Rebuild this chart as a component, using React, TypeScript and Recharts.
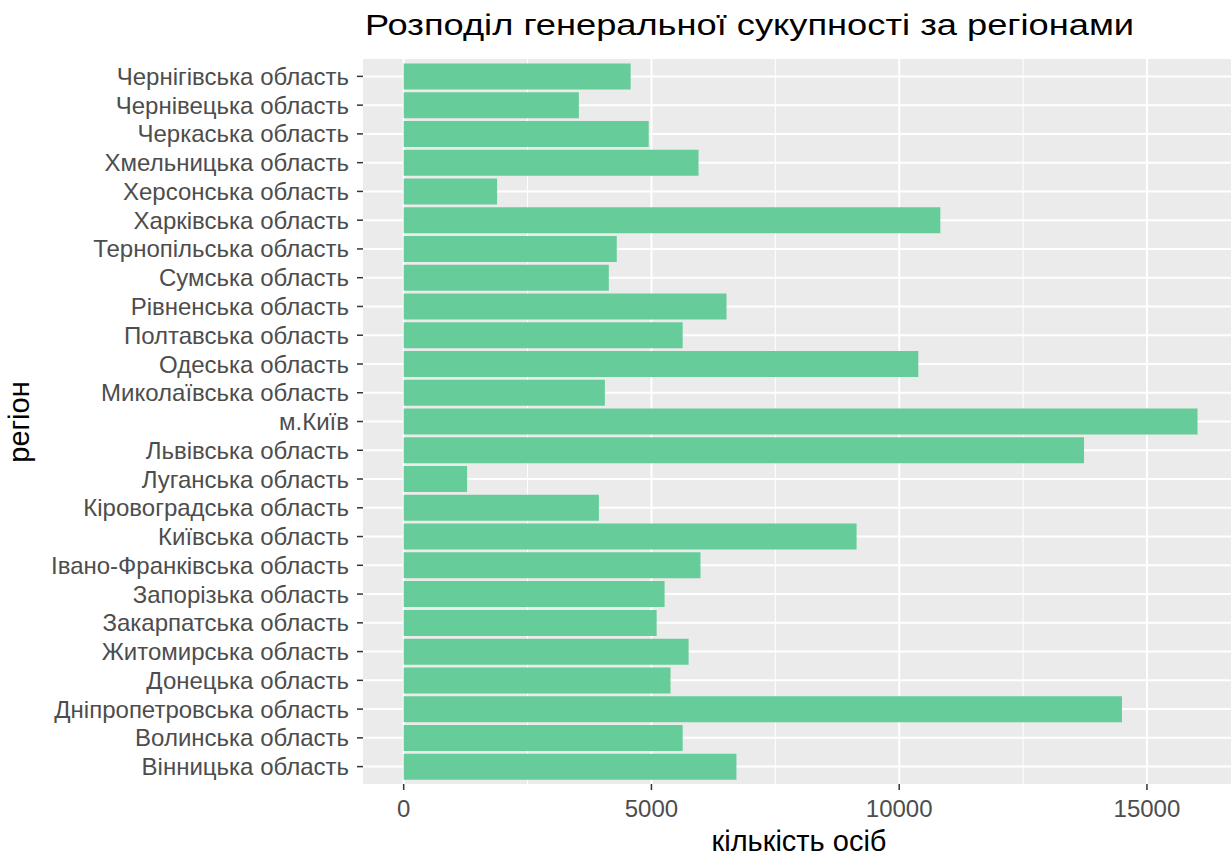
import React from 'react';
import { BarChart, Bar, XAxis, YAxis, CartesianGrid } from 'recharts';

// regions, top to bottom as drawn
const regions = [
  'Чернігівська область',
  'Чернівецька область',
  'Черкаська область',
  'Хмельницька область',
  'Херсонська область',
  'Харківська область',
  'Тернопільська область',
  'Сумська область',
  'Рівненська область',
  'Полтавська область',
  'Одеська область',
  'Миколаївська область',
  'м.Київ',
  'Львівська область',
  'Луганська область',
  'Кіровоградська область',
  'Київська область',
  'Івано-Франківська область',
  'Запорізька область',
  'Закарпатська область',
  'Житомирська область',
  'Донецька область',
  'Дніпропетровська область',
  'Волинська область',
  'Вінницька область',
];

const counts = [
  4580, 3535, 4945, 5950, 1885, 10830, 4300, 4140, 6515, 5630, 10385, 4060, 16020,
  13730, 1280, 3940, 9140, 5990, 5265, 5105, 5750, 5385, 14495, 5630, 6715,
];

const xTicks = [0, 5000, 10000, 15000];
const xMinorTicks = [2500, 7500, 12500];

const data = regions.map((region, i) => ({ region, count: counts[i] }));

const FONT = '"Liberation Sans", Arial, sans-serif';
const X_DOMAIN: [number, number] = [-821, 16696];

function App() {
  return (
    <div style={{ position: 'absolute', left: 0, top: 0, width: 1231, height: 856, background: '#fff', fontFamily: FONT }}>
      <div
        style={{
          position: 'absolute',
          left: 365,
          top: 9,
          fontSize: 29,
          color: '#000',
          whiteSpace: 'nowrap',
          transform: 'scaleX(1.25)',
          transformOrigin: 'left center',
        }}
      >
        Розподіл генеральної сукупності за регіонами
      </div>
      <BarChart
        width={1231}
        height={856}
        data={data}
        layout="vertical"
        margin={{ top: 59, right: 0, bottom: 0, left: 0 }}
        barCategoryGap="5%"
      >
        <CartesianGrid fill="#EBEBEB" stroke="#FFFFFF" strokeWidth={2} syncWithTicks />
        {/* minor vertical lines via a hidden axis so they stay behind the bars */}
        <CartesianGrid xAxisId="minor" horizontal={false} fill="none" stroke="#FFFFFF" strokeWidth={1} syncWithTicks />
        <XAxis
          type="number"
          dataKey="count"
          domain={X_DOMAIN}
          allowDataOverflow
          ticks={xTicks}
          axisLine={false}
          tickLine={{ stroke: '#333333', strokeWidth: 1.5 }}
          tickSize={6}
          tickMargin={10}
          height={72}
          tick={{ fill: '#4D4D4D', fontSize: 24, fontFamily: FONT }}
        />
        <XAxis xAxisId="minor" type="number" domain={X_DOMAIN} allowDataOverflow ticks={xMinorTicks} hide />
        <YAxis
          type="category"
          dataKey="region"
          width={363}
          axisLine={false}
          padding={{ top: 3, bottom: 3 }}
          tickLine={{ stroke: '#333333', strokeWidth: 1.5 }}
          tickSize={6}
          tickMargin={8}
          interval={0}
          tick={{ fill: '#4D4D4D', fontSize: 24, fontFamily: FONT }}
        />
        <Bar dataKey="count" fill="#66CC99" isAnimationActive={false} />
      </BarChart>
      <div style={{ position: 'absolute', left: 799, top: 825, transform: 'translateX(-50%)', fontSize: 29, color: '#000', whiteSpace: 'nowrap' }}>
        кількість осіб
      </div>
      <div
        style={{
          position: 'absolute',
          left: 19,
          top: 422,
          transform: 'translate(-50%, -50%) rotate(-90deg)',
          fontSize: 29,
          color: '#000',
          whiteSpace: 'nowrap',
        }}
      >
        регіон
      </div>
    </div>
  );
}

export default App;
